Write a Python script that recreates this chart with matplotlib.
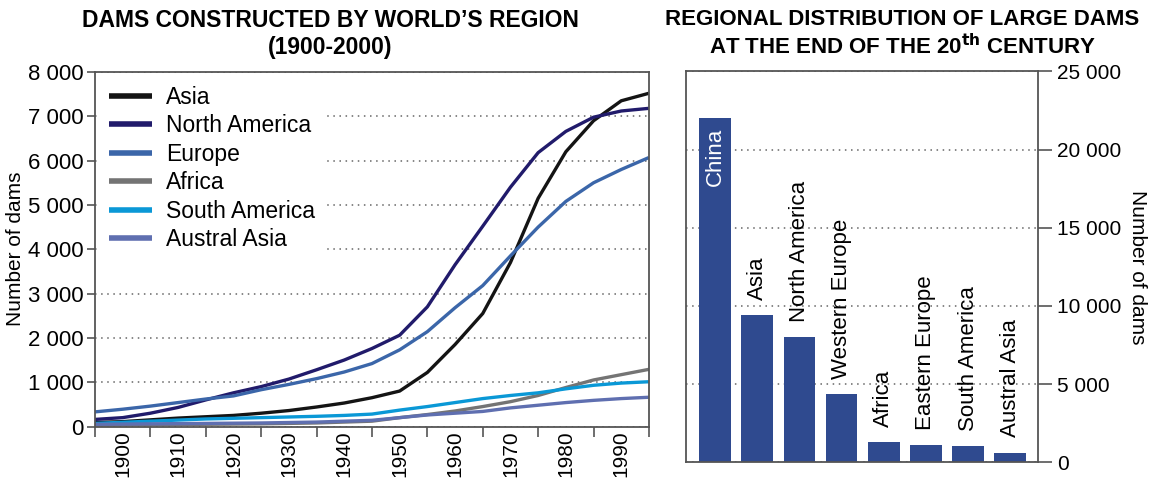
import numpy as np
import matplotlib.pyplot as plt
from matplotlib.ticker import FuncFormatter, MultipleLocator

plt.rcParams['font.family'] = ['Liberation Sans', 'DejaVu Sans']

years = [1900, 1905, 1910, 1915, 1920, 1925, 1930, 1935, 1940, 1945, 1950,
         1955, 1960, 1965, 1970, 1975, 1980, 1985, 1990, 1995, 2000]

asia = [90, 110, 150, 190, 220, 250, 300, 360, 440, 530, 650,
        800, 1220, 1850, 2550, 3700, 5150, 6200, 6900, 7350, 7520]
north_america = [160, 200, 300, 430, 600, 760, 900, 1070, 1280, 1500, 1760,
                 2060, 2700, 3650, 4520, 5400, 6180, 6660, 6980, 7120, 7180]
europe = [330, 390, 460, 540, 620, 690, 830, 950, 1080, 1230, 1420,
          1730, 2140, 2680, 3180, 3850, 4500, 5080, 5500, 5800, 6070]
africa = [30, 35, 40, 45, 50, 55, 60, 70, 80, 100, 120,
          200, 270, 350, 450, 560, 700, 880, 1050, 1170, 1290]
south_america = [70, 95, 120, 145, 170, 185, 200, 215, 230, 250, 280,
                 370, 450, 540, 630, 700, 760, 850, 930, 980, 1010]
austral_asia = [50, 55, 60, 65, 70, 75, 80, 90, 100, 120, 140,
                200, 260, 300, 340, 420, 480, 540, 590, 630, 660]

series = [("Asia", asia, "#141414"),
          ("North America", north_america, "#211b6b"),
          ("Europe", europe, "#3b66a9"),
          ("Africa", africa, "#747474"),
          ("South America", south_america, "#0a98d6"),
          ("Austral Asia", austral_asia, "#5f6fb0")]

regions = ["China", "Asia", "North America", "Western Europe", "Africa",
           "Eastern Europe", "South America", "Austral Asia"]
large_dams = [22000, 9400, 8000, 4380, 1300, 1100, 1030, 620]

fmt = FuncFormatter(lambda v, p: f"{v:,.0f}".replace(",", " "))
spine_col = "#555555"

fig = plt.figure(figsize=(11.58, 4.79), dpi=100)

# left: dams constructed by region
ax = fig.add_axes([0.0820, 0.1096, 0.4784, 0.7401])
for name, vals, col in series:
    ax.plot(years, vals, color=col, lw=2.4, label=name, solid_capstyle="butt")
ax.set_xlim(1900, 2000)
ax.set_ylim(0, 8000)
ax.yaxis.set_major_locator(MultipleLocator(1000))
ax.yaxis.set_major_formatter(fmt)
ax.set_xticks(range(1900, 2001, 10))
ax.set_xticklabels([])
ax.set_xticks(range(1905, 2000, 10), minor=True)
ax.set_xticklabels([str(y) for y in range(1900, 2000, 10)], minor=True, rotation=90)
ax.tick_params(axis="x", which="minor", length=0, labelsize=15, pad=3)
ax.tick_params(axis="x", which="major", length=7, width=1.2, color=spine_col, direction="out")
ax.tick_params(axis="y", length=6, width=1.2, color=spine_col, labelsize=16, pad=2)
ax.grid(axis="y", linestyle=(0, (1, 3)), color="#666666", lw=1.1)
ax.set_axisbelow(True)
for s in ax.spines.values():
    s.set_color(spine_col)
    s.set_linewidth(1.3)
ax.set_ylabel("Number of dams", fontsize=15, labelpad=2)
leg = ax.legend(loc="upper left", bbox_to_anchor=(0.0, 1.0), fontsize=16.5,
                handlelength=1.9, handletextpad=0.6, labelspacing=0.24,
                frameon=True, fancybox=False, borderaxespad=0.2, borderpad=0.4)
leg.get_frame().set_edgecolor("none")
leg.get_frame().set_facecolor("white")
leg.get_frame().set_alpha(1)
for h in leg.get_lines():
    h.set_linewidth(4)

fig.text(330 / 1158, 1 - 34 / 479, "DAMS CONSTRUCTED BY WORLD\u2019S REGION\n(1900-2000)",
         ha="center", va="center", fontsize=16.5, fontweight="bold", linespacing=1.2)

# right: regional distribution of large dams
ax2 = fig.add_axes([0.5924, 0.0349, 0.3040, 0.8159])
x = np.arange(len(regions))
ax2.bar(x, large_dams, width=0.75, color="#2f4a8f", zorder=2)
ax2.set_xlim(-0.69, 7.66)
ax2.set_ylim(0, 25000)
ax2.yaxis.set_major_locator(MultipleLocator(5000))
ax2.yaxis.set_major_formatter(fmt)
ax2.yaxis.tick_right()
ax2.yaxis.set_label_position("right")
ax2.set_xticks([])
ax2.tick_params(axis="y", length=10, width=1.2, color=spine_col, labelsize=15, pad=4)
ax2.grid(axis="y", linestyle=(0, (1, 3)), color="#666666", lw=1.1, zorder=0)
ax2.set_axisbelow(True)
for s in ax2.spines.values():
    s.set_color(spine_col)
    s.set_linewidth(1.3)
ax2.set_ylabel("Number of dams", fontsize=15, rotation=270, labelpad=18)
for i, (name, v) in enumerate(zip(regions, large_dams)):
    if i == 0:
        ax2.annotate(name, (i, v), xytext=(0, -7), textcoords="offset points",
                     rotation=90, ha="center", va="top", color="white", fontsize=16)
    else:
        ax2.annotate(name, (i, v), xytext=(0, 11), textcoords="offset points",
                     rotation=90, ha="center", va="bottom", color="black", fontsize=16)

fig.text(902 / 1158, 1 - 34 / 479,
         "REGIONAL DISTRIBUTION OF LARGE DAMS\nAT THE END OF THE 20$^{\\mathbf{th}}$ CENTURY",
         ha="center", va="center", fontsize=16, fontweight="bold", linespacing=1.2)

fig.savefig("out.png", dpi=100)
